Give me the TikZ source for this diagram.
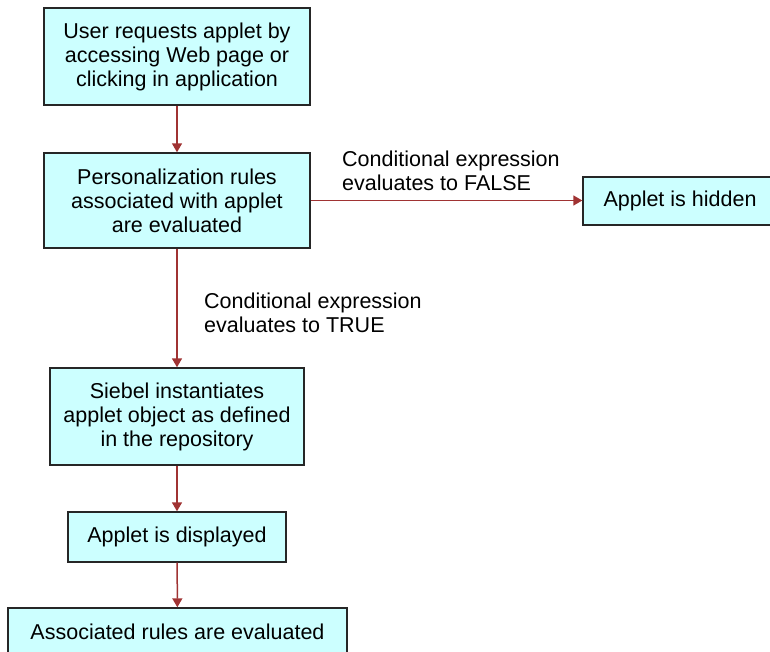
\documentclass[tikz,border=0pt]{standalone}
\usepackage{fontspec}
\setmainfont{Liberation Sans}
\usepackage{xcolor}
\usetikzlibrary{arrows.meta,positioning}

\definecolor{boxfill}{HTML}{CCFFFF}
\definecolor{flowred}{HTML}{A03333}

\begin{document}
\begin{tikzpicture}[x=1pt, y=1pt,
    stepbox/.style={draw=black!85, line width=1.4pt, fill=boxfill, align=center,
        inner sep=0pt, font=\fontsize{21.5}{24}\selectfont},
    condlbl/.style={align=left, inner sep=0pt, anchor=north west,
        font=\fontsize{21.5}{24}\selectfont},
    flow/.style={draw=flowred, line width=1.5pt, -{Triangle[length=9pt,width=10pt]}}]
\useasboundingbox (0,0) rectangle (770,652);
\clip (0,0) rectangle (770,652);
% nodes
\node[stepbox, minimum width=266pt, minimum height=97pt] (request) at (177,595.5) {User requests applet by\\accessing Web page or\\clicking in application};%
\node[stepbox, minimum width=266pt, minimum height=95pt] (rules) at (177,451.5) {Personalization rules\\associated with applet\\are evaluated};%
\node[stepbox, minimum width=194pt, minimum height=48pt] (hidden) at (680,451) {Applet is hidden};%
\node[stepbox, minimum width=254pt, minimum height=97pt] (siebel) at (177,235.5) {Siebel instantiates\\applet object as defined\\in the repository};%
\node[stepbox, minimum width=218pt, minimum height=50pt] (shown) at (177,115) {Applet is displayed};%
\node[stepbox, minimum width=339pt, minimum height=48pt] (assoc) at (177.5,20) {Associated rules are evaluated};%

\node[condlbl] (falselbl) at (342,501) {Conditional expression\\evaluates to FALSE};%
\node[condlbl] (truelbl) at (204,359) {Conditional expression\\evaluates to TRUE};%

% connectors
\draw[flow] (request) -- (rules);
\draw[flow] (rules.east) -- (hidden.west |- rules.east);
\draw[flow] (rules) -- (siebel);
\draw[flow] (siebel) -- (shown);
\draw[flow] (shown) -- (assoc);

\end{tikzpicture}
\end{document}
